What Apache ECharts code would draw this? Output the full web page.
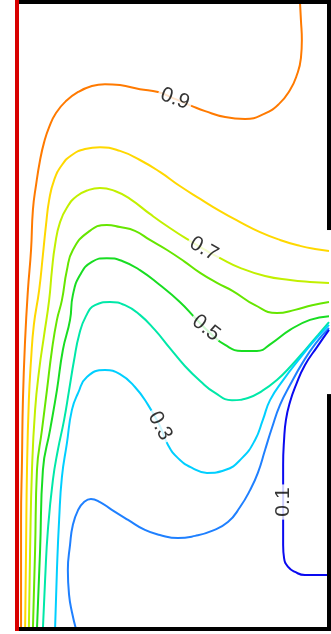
<!DOCTYPE html>
<html>
<head>
<meta charset="utf-8">
<script src="https://cdn.jsdelivr.net/npm/echarts@6/dist/echarts.min.js"></script>
<style>
html,body{margin:0;padding:0;background:#fff;}
#chart{width:331px;height:634px;}
</style>
</head>
<body>
<div id="chart"></div>
<script>
// Contour levels (non-dimensional temperature)
const levels = [0.9, 0.8, 0.7, 0.6, 0.5, 0.4, 0.3, 0.2, 0.1];

// Contour paths in domain coordinates [x, y], domain x:0..1, y:0..2
const c09 = [[0.907,2.0],[0.910,1.943],[0.913,1.879],[0.910,1.821],[0.897,1.767],[0.875,1.719],[0.840,1.675],[0.792,1.643],[0.731,1.627],[0.667,1.633],[0.603,1.652],[0.561,1.668],[0.506,1.691],[0.452,1.713],[0.394,1.722],[0.330,1.735],[0.282,1.738],[0.240,1.732],[0.196,1.713],[0.157,1.684],[0.125,1.646],[0.103,1.601],[0.087,1.553],[0.074,1.496],[0.061,1.416],[0.051,1.337],[0.045,1.209],[0.035,1.081],[0.026,0.922],[0.019,0.730],[0.016,0.539],[0.013,0.348],[0.013,0.156],[0.013,0.0]];
const c08 = [[1.0,1.206],[0.955,1.212],[0.907,1.222],[0.843,1.241],[0.779,1.266],[0.715,1.298],[0.651,1.333],[0.587,1.372],[0.522,1.413],[0.458,1.458],[0.394,1.496],[0.330,1.525],[0.266,1.537],[0.218,1.531],[0.176,1.512],[0.144,1.480],[0.119,1.432],[0.103,1.368],[0.093,1.289],[0.083,1.193],[0.071,1.081],[0.054,0.970],[0.045,0.858],[0.038,0.730],[0.032,0.507],[0.029,0.252],[0.026,0.0]];
const c07 = [[1.0,1.104],[0.939,1.107],[0.875,1.113],[0.795,1.126],[0.715,1.152],[0.651,1.183],[0.603,1.209],[0.554,1.238],[0.490,1.279],[0.426,1.324],[0.362,1.372],[0.314,1.397],[0.266,1.407],[0.228,1.400],[0.192,1.381],[0.163,1.349],[0.138,1.298],[0.122,1.225],[0.112,1.145],[0.103,1.049],[0.087,0.938],[0.071,0.826],[0.058,0.699],[0.048,0.507],[0.042,0.252],[0.038,0.0]];
const c06 = [[1.0,1.043],[0.946,1.033],[0.891,1.018],[0.833,1.008],[0.763,1.033],[0.692,1.078],[0.641,1.104],[0.587,1.136],[0.538,1.171],[0.481,1.209],[0.426,1.241],[0.378,1.270],[0.330,1.282],[0.288,1.289],[0.228,1.266],[0.179,1.209],[0.160,1.145],[0.144,1.049],[0.128,0.986],[0.112,0.890],[0.096,0.762],[0.080,0.635],[0.064,0.507],[0.058,0.252],[0.051,0.0]];
const c05 = [[1.0,0.998],[0.939,0.986],[0.875,0.954],[0.817,0.912],[0.769,0.887],[0.721,0.887],[0.667,0.906],[0.619,0.944],[0.571,0.992],[0.522,1.043],[0.458,1.097],[0.394,1.145],[0.337,1.174],[0.288,1.183],[0.240,1.171],[0.202,1.129],[0.179,1.065],[0.170,0.986],[0.147,0.890],[0.128,0.762],[0.106,0.635],[0.083,0.507],[0.074,0.252],[0.064,0.0]];
const c04 = [[1.0,0.979],[0.965,0.938],[0.926,0.893],[0.881,0.842],[0.833,0.794],[0.785,0.759],[0.740,0.737],[0.689,0.730],[0.635,0.753],[0.587,0.791],[0.538,0.839],[0.490,0.896],[0.442,0.954],[0.394,1.002],[0.346,1.033],[0.298,1.043],[0.250,1.033],[0.221,0.998],[0.199,0.938],[0.183,0.858],[0.167,0.762],[0.151,0.667],[0.131,0.571],[0.115,0.475],[0.099,0.316],[0.090,0.156],[0.083,0.0]];
const c03 = [[1.0,0.970],[0.955,0.922],[0.907,0.864],[0.853,0.794],[0.811,0.730],[0.788,0.667],[0.763,0.603],[0.721,0.545],[0.667,0.507],[0.609,0.498],[0.561,0.514],[0.516,0.545],[0.484,0.587],[0.458,0.648],[0.420,0.715],[0.378,0.772],[0.330,0.813],[0.282,0.826],[0.224,0.804],[0.196,0.753],[0.176,0.699],[0.160,0.593],[0.144,0.485],[0.135,0.348],[0.128,0.188],[0.122,0.0]];
const c02 = [[1.0,0.960],[0.958,0.912],[0.917,0.852],[0.875,0.778],[0.843,0.715],[0.817,0.641],[0.795,0.571],[0.772,0.498],[0.747,0.443],[0.715,0.389],[0.676,0.341],[0.625,0.313],[0.571,0.297],[0.516,0.290],[0.458,0.300],[0.410,0.316],[0.356,0.348],[0.304,0.380],[0.266,0.405],[0.237,0.415],[0.215,0.405],[0.196,0.380],[0.179,0.332],[0.170,0.268],[0.163,0.188],[0.167,0.108],[0.176,0.054],[0.189,0.0]];
const c01 = [[1.0,0.954],[0.962,0.900],[0.923,0.842],[0.894,0.778],[0.875,0.724],[0.862,0.667],[0.856,0.603],[0.853,0.523],[0.853,0.443],[0.853,0.364],[0.853,0.268],[0.856,0.226],[0.869,0.198],[0.891,0.182],[0.923,0.172],[1.0,0.172]];
const contours = [c09, c08, c07, c06, c05, c04, c03, c02, c01];

// Inline contour labels: text and anchor in domain coordinates
const labelText = ['0.9', '0.7', '0.5', '0.3', '0.1'];
const labelX = [0.506, 0.599, 0.606, 0.458, 0.853];
const labelY = [1.691, 1.212, 0.960, 0.648, 0.405];

// Walls (domain boundaries)
const hotWall = [[0, 0], [0, 2]];
const topWall = [[0, 2], [1, 2]];
const bottomWall = [[0, 0], [1, 0]];
const rightWallUpper = [[1, 2], [1, 1.279]];
const rightWallLower = [[1, 0.743], [1, 0]];

// ---- styles ----
const levelColors = ['#ff7a00', '#ffd800', '#c2f000', '#66e600', '#18dd22', '#00e8a8', '#00cfff', '#1f80ff', '#0a0af0'];
const labelRot = [-20, -30, -38, -62, 90];

const chart = echarts.init(document.getElementById('chart'), null, {renderer: 'canvas'});
const series = [];
contours.forEach((c, i) => {
  series.push({
    type: 'line', data: c, showSymbol: false, symbol: 'none', smooth: 0.5,
    lineStyle: {color: levelColors[i], width: 2}, z: 2, silent: true
  });
});
function wall(d, color, w) {
  return {type: 'line', data: d, showSymbol: false, symbol: 'none', clip: false,
    lineStyle: {color: color, width: w, cap: 'square'}, z: 5, silent: true};
}
series.push(wall(topWall, '#000', 4));
series.push(wall(bottomWall, '#000', 4));
series.push(wall(rightWallUpper, '#000', 4));
series.push(wall(rightWallLower, '#000', 4));
series.push(wall(hotWall, '#d80000', 4));
series.push({
  type: 'scatter', symbolSize: 2, z: 10, silent: true,
  itemStyle: {color: 'rgba(255,255,255,0)'},
  label: {show: true, position: 'inside', color: '#000', fontSize: 21,
    fontFamily: 'Liberation Sans, Arial, sans-serif', backgroundColor: '#fff',
    padding: [0, 3], lineHeight: 21},
  data: labelText.map((t, i) => ({
    value: [labelX[i], labelY[i]],
    label: {formatter: t, rotate: labelRot[i]}
  }))
});

chart.setOption({
  animation: false,
  backgroundColor: '#fff',
  grid: {left: 17, right: 2, top: 2, bottom: 5},
  xAxis: {type: 'value', min: 0, max: 1, show: false},
  yAxis: {type: 'value', min: 0, max: 2, show: false},
  series: series
});
</script>
</body>
</html>
